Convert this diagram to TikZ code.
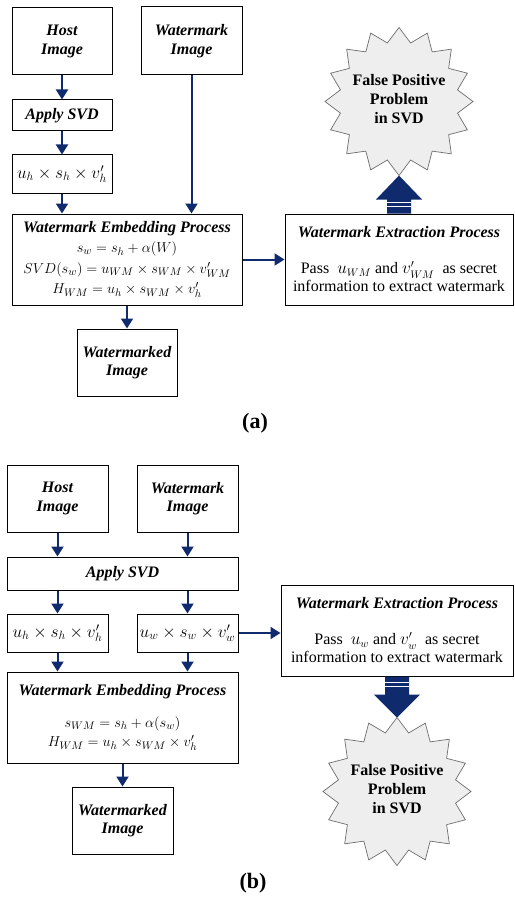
\documentclass[tikz,border=0pt]{standalone}
\usepackage{fontspec}
\setmainfont{Liberation Serif}
\usetikzlibrary{arrows.meta,shapes.geometric,calc}
\definecolor{navy}{RGB}{16,42,110}
\definecolor{stargray}{RGB}{238,238,238}
\definecolor{starline}{RGB}{110,110,110}
\newcommand{\burstText}{\raisebox{-8pt}{\smash{\makebox[0pt]{\begin{tabular}{@{}c@{}}False Positive\\Problem\\in SVD\end{tabular}}}}}
\begin{document}
\begin{tikzpicture}[x=1pt,y=-1pt,
  box/.style={draw=black, line width=1pt, fill=white, inner sep=0pt, align=center,
    font=\fontsize{16}{18.5}\selectfont\bfseries\itshape},
  eqbox/.style={draw=black, line width=1pt, fill=white, inner sep=0pt, align=center,
    font=\fontsize{15}{20.5}\selectfont},
  ubox/.style={eqbox, font=\fontsize{17}{20}\selectfont},
  conn/.style={draw=navy, line width=2pt, -{Triangle[length=10pt,width=12pt]}},
  burst/.style={star, star points=16, star point ratio=1.24, minimum size=148pt,
    inner sep=0pt, outer sep=0pt, draw=starline, line width=0.7pt, fill=stargray,
    font=\fontsize{16}{19}\selectfont\bfseries},
  stripe/.style={draw=white, line width=1.1pt},
  sublabel/.style={font=\fontsize{22}{26}\selectfont\bfseries}
]
\fill[white] (0,0) rectangle (514,912);
\useasboundingbox (0,0) rectangle (514,912);

% ---------------- (a) ----------------
\node[box, minimum width=100pt, minimum height=67pt] (hostA) at (62,41.5) {Host\\Image};
\node[box, minimum width=101pt, minimum height=68pt] (wmA) at (191.5,41) {Watermark\\Image};
\node[box, minimum width=100pt, minimum height=31pt] (svdA) at (62,115.5) {Apply SVD};
\node[ubox, minimum width=100pt, minimum height=38pt] (uhA) at (62,174) {$u_h \times s_h \times v'_h$};
\node[eqbox, minimum width=230pt, minimum height=91pt] (embA) at (127,259.5)
  {{\fontsize{16}{20.5}\selectfont\bfseries\itshape Watermark Embedding Process}\\
   $s_w = s_h + \alpha(W)$\\
   $SVD(s_w) = u_{WM} \times s_{WM} \times v'_{WM}$\\
   $H_{WM} = u_h \times s_{WM} \times v'_h$};
\node[box, minimum width=100pt, minimum height=67pt] (wmdA) at (127,362.5) {Watermarked\\Image};
\node[eqbox, minimum width=228pt, minimum height=91pt, font=\fontsize{16}{18}\selectfont] (extA) at (399,259.5)
  {{\bfseries\itshape Watermark Extraction Process}\\[18pt]
   Pass\ \ $u_{WM}$ and $v'_{WM}$\ \ as secret\\
   information to extract watermark};
\node[burst] (starA) at (399,101.5) {\burstText};

\draw[conn] (hostA.south) -- (svdA.north);
\draw[conn] (svdA.south) -- (uhA.north);
\draw[conn] (uhA.south) -- (uhA.south |- embA.north);
\draw[conn] (wmA.south) -- (wmA.south |- embA.north);
\draw[conn] (embA.south) -- (wmdA.north);
\draw[conn] (embA.east) -- (extA.west);

\coordinate (tA) at (starA.south);
\fill[navy] (tA) -- ($(tA)+(23,24)$) -- ($(tA)+(12,24)$) -- ($(extA.north)+(12,0)$)
  -- ($(extA.north)+(-12,0)$) -- ($(tA)+(-12,24)$) -- ($(tA)+(-23,24)$) -- cycle;
\draw[stripe] ($(extA.north)+(-12,-11)$) -- ($(extA.north)+(12,-11)$);
\draw[stripe] ($(extA.north)+(-12,-7)$) -- ($(extA.north)+(12,-7)$);

\node[sublabel] (labA) at (255,423) {(a)};

% ---------------- (b) ----------------
\node[box, minimum width=101pt, minimum height=67pt] (hostB) at (57.5,498.5) {Host\\Image};
\node[box, minimum width=101pt, minimum height=67pt] (wmB) at (187.5,498.5) {Watermark\\Image};
\node[box, minimum width=231pt, minimum height=33pt] (svdB) at (122.5,573.5) {Apply SVD};
\node[ubox, minimum width=101pt, minimum height=38pt] (uhB) at (57.5,633) {$u_h \times s_h \times v'_h$};
\node[ubox, minimum width=101pt, minimum height=38pt] (uwB) at (187.5,633) {$u_w \times s_w \times v'_w$};
\node[eqbox, minimum width=231pt, minimum height=91pt, font=\fontsize{15}{19.5}\selectfont] (embB) at (122.5,717.5)
  {{\fontsize{16}{19.5}\selectfont\bfseries\itshape Watermark Embedding Process}\\[12pt]
   $s_{WM} = s_h + \alpha(s_w)$\\
   $H_{WM} = u_h \times s_{WM} \times v'_h$};
\node[box, minimum width=101pt, minimum height=67pt] (wmdB) at (122.5,820.5) {Watermarked\\Image};
\node[eqbox, minimum width=232pt, minimum height=91pt, font=\fontsize{16}{18}\selectfont] (extB) at (397,630.5)
  {{\bfseries\itshape Watermark Extraction Process}\\[18pt]
   Pass\ \ $u_w$ and $v'_w$\ \ as secret\\
   information to extract watermark};
\node[burst] (starB) at (397,791.5) {\burstText};

\draw[conn] (hostB.south) -- (hostB.south |- svdB.north);
\draw[conn] (wmB.south) -- (wmB.south |- svdB.north);
\draw[conn] (uhB.north |- svdB.south) -- (uhB.north);
\draw[conn] (uwB.north |- svdB.south) -- (uwB.north);
\draw[conn] (uhB.south) -- (uhB.south |- embB.north);
\draw[conn] (uwB.south) -- (uwB.south |- embB.north);
\draw[conn] (embB.south) -- (wmdB.north);
\draw[conn] (uwB.east) -- (uwB.east -| extB.west);

\coordinate (tB) at (starB.north);
\fill[navy] (tB) -- ($(tB)+(23,-23)$) -- ($(tB)+(12,-23)$) -- ($(extB.south)+(12,0)$)
  -- ($(extB.south)+(-12,0)$) -- ($(tB)+(-12,-23)$) -- ($(tB)+(-23,-23)$) -- cycle;
\draw[stripe] ($(extB.south)+(-12,6)$) -- ($(extB.south)+(12,6)$);
\draw[stripe] ($(extB.south)+(-12,10)$) -- ($(extB.south)+(12,10)$);

\node[sublabel] (labB) at (253,883) {(b)};
\end{tikzpicture}
\end{document}
